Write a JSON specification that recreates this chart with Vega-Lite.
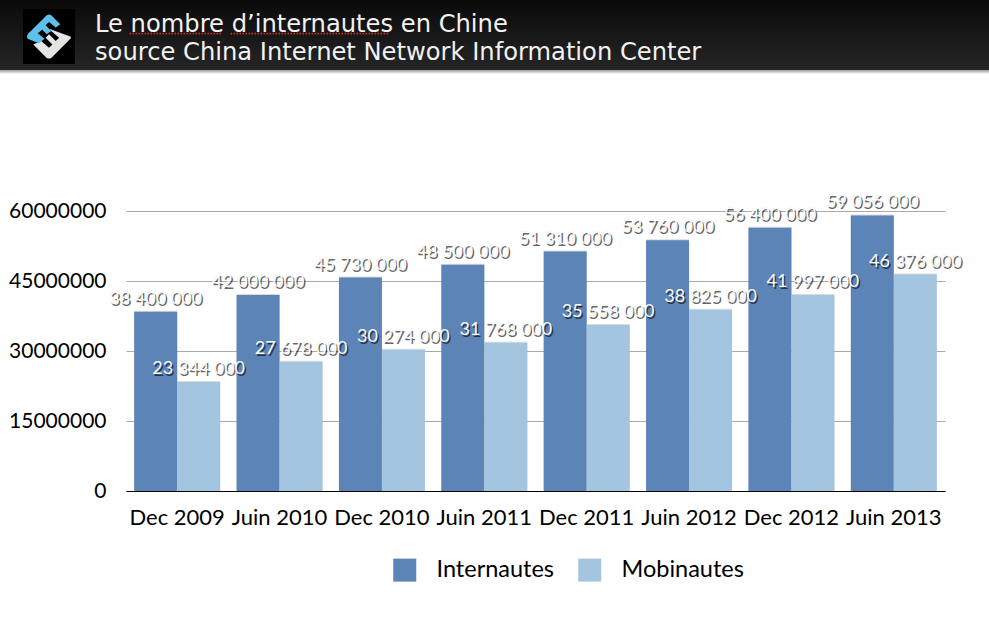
{
  "$schema": "https://vega.github.io/schema/vega-lite/v6.json",
  "padding": 0,
  "background": "white",
  "spacing": 0,
  "config": {"font": "Lato", "concat": {"spacing": 0}},
  "datasets": {
    "series": [
      {"period": "Dec 2009", "serie": "Internautes", "value": 38400000, "label": "38 400 000"},
      {"period": "Dec 2009", "serie": "Mobinautes", "value": 23344000, "label": "23 344 000"},
      {"period": "Juin 2010", "serie": "Internautes", "value": 42000000, "label": "42 000 000"},
      {"period": "Juin 2010", "serie": "Mobinautes", "value": 27678000, "label": "27 678 000"},
      {"period": "Dec 2010", "serie": "Internautes", "value": 45730000, "label": "45 730 000"},
      {"period": "Dec 2010", "serie": "Mobinautes", "value": 30274000, "label": "30 274 000"},
      {"period": "Juin 2011", "serie": "Internautes", "value": 48500000, "label": "48 500 000"},
      {"period": "Juin 2011", "serie": "Mobinautes", "value": 31768000, "label": "31 768 000"},
      {"period": "Dec 2011", "serie": "Internautes", "value": 51310000, "label": "51 310 000"},
      {"period": "Dec 2011", "serie": "Mobinautes", "value": 35558000, "label": "35 558 000"},
      {"period": "Juin 2012", "serie": "Internautes", "value": 53760000, "label": "53 760 000"},
      {"period": "Juin 2012", "serie": "Mobinautes", "value": 38825000, "label": "38 825 000"},
      {"period": "Dec 2012", "serie": "Internautes", "value": 56400000, "label": "56 400 000"},
      {"period": "Dec 2012", "serie": "Mobinautes", "value": 41997000, "label": "41 997 000"},
      {"period": "Juin 2013", "serie": "Internautes", "value": 59056000, "label": "59 056 000"},
      {"period": "Juin 2013", "serie": "Mobinautes", "value": 46376000, "label": "46 376 000"}
    ]
  },
  "vconcat": [
    {
      "width": 863,
      "height": 74,
      "view": {"stroke": null},
      "title": {
        "text": ["Le nombre d’internautes en Chine", "source China Internet Network Information Center"],
        "anchor": "start",
        "frame": "group",
        "orient": "top",
        "offset": -65,
        "dx": -31,
        "font": "DejaVu Sans",
        "fontSize": 24.2,
        "fontWeight": "normal",
        "color": "#f2f2f2",
        "lineHeight": 28,
        "baseline": "top"
      },
      "data": {"values": [{"banner": "banner", "logo": "logo"}]},
      "resolve": {"scale": {"x": "independent", "y": "independent"}},
      "layer": [
        {
          "mark": {
            "type": "rect",
            "fill": {
              "x1": 0, "y1": 0, "x2": 0, "y2": 1,
              "gradient": "linear",
              "stops": [
                {"offset": 0, "color": "#0a0a0a"},
                {"offset": 0.94, "color": "#252525"},
                {"offset": 0.945, "color": "#9a9a9a"},
                {"offset": 1, "color": "#ffffff"}
              ]
            }
          },
          "encoding": {
            "x": {"field": "banner", "type": "nominal", "axis": null, "scale": {"range": [-126, 863]}},
            "y": {"field": "banner", "type": "nominal", "axis": null, "scale": {"range": [0, 74]}}
          }
        },
        {
          "encoding": {
            "x": {"field": "logo", "type": "nominal", "axis": null, "scale": {"range": [-103, -51]}},
            "y": {"field": "logo", "type": "nominal", "axis": null, "scale": {"range": [9, 64]}}
          },
          "layer": [
            {"mark": {"type": "rect", "fill": "#000000"}},
            {"mark": {"type": "point", "filled": true, "size": 2025, "opacity": 1, "fill": "#e4e4e4", "shape": "M0 -0.35 L0.95 0 Q1 0.05 0.95 0.1 L0.1 0.95 Q0 1 -0.1 0.95 L-0.7 0.35 L-0.35 0.2 L0 0.5 L0.15 0.35 L-0.15 0.05 L0 -0.1 L0.3 0.2 L0.45 0.05 L0.1 -0.25 Z"}},
            {"mark": {"type": "point", "filled": true, "size": 2025, "opacity": 1, "fill": "#5cc0ea", "shape": "M-0.1 -0.95 Q0 -1 0.1 -0.95 L0.5 -0.55 L0.3 -0.4 L0 -0.65 L-0.15 -0.5 L0.1 -0.25 L-0.1 -0.1 L-0.3 -0.3 L-0.5 -0.15 L-0.2 0.1 L-0.45 0.3 L-0.95 0.1 Q-1 0 -0.95 -0.1 Z"}},
            {"mark": {"type": "point", "filled": true, "size": 2025, "opacity": 1, "fill": "transparent", "stroke": "#d03020", "strokeWidth": 1.6, "strokeDash": [1.5, 1.5], "shape": "M3.58 -0.13 L7.7 -0.13 M8.07 -0.13 L15.13 -0.13"}}
          ]
        }
      ]
    },
    {
      "width": 819,
      "height": 417,
      "view": {"stroke": null},
      "data": {"name": "series"},
      "encoding": {
        "x": {
          "field": "period",
          "type": "nominal",
          "sort": null,
          "title": null,
          "scale": {"paddingInner": 0.16, "paddingOuter": 0.08},
          "axis": {
            "labelAngle": 0,
            "labelFontSize": 22,
            "labelColor": "#000000",
            "labelPadding": 16,
            "ticks": false,
            "domainColor": "#000000",
            "domainWidth": 1.2,
            "grid": false,
            "zindex": 1
          }
        },
        "xOffset": {"field": "serie", "type": "nominal", "sort": null, "scale": {"paddingInner": 0, "paddingOuter": 0}},
        "y": {
          "field": "value",
          "type": "quantitative",
          "title": null,
          "scale": {"domain": [0, 89360000], "nice": false},
          "axis": {
            "values": [0, 15000000, 30000000, 45000000, 60000000],
            "format": "d",
            "labelFontSize": 21,
            "labelColor": "#000000",
            "labelPadding": 20,
            "minExtent": 126,
            "maxExtent": 126,
            "ticks": false,
            "domain": false,
            "grid": true,
            "gridColor": "#aaaaaa",
            "gridWidth": 1
          }
        }
      },
      "layer": [
        {"mark": {"type": "bar", "fill": "#000000", "opacity": 0.14, "xOffset": 2.5, "yOffset": -1}},
        {
          "mark": {"type": "bar"},
          "encoding": {
            "color": {
              "field": "serie",
              "type": "nominal",
              "sort": null,
              "scale": {"domain": ["Internautes", "Mobinautes"], "range": ["#5d84b7", "#a4c5e0"]},
              "legend": {
                "title": null,
                "orient": "none",
                "direction": "horizontal",
                "legendX": 267,
                "legendY": 558,
                "symbolType": "square",
                "symbolSize": 529,
                "symbolOpacity": 1,
                "symbolStrokeWidth": 0,
                "labelFontSize": 23.5,
                "labelColor": "#000000",
                "labelOffset": 20,
                "columnPadding": 23,
                "rowPadding": 0
              }
            }
          }
        },
        {
          "mark": {"type": "text", "baseline": "bottom", "dy": -2, "dx": 1.5, "fontSize": 18, "fill": "#000000", "opacity": 0.6, "align": "center"},
          "encoding": {"text": {"field": "label"}}
        },
        {
          "mark": {"type": "text", "baseline": "bottom", "dy": -4, "fontSize": 18, "fill": "#f8f8f8", "align": "center"},
          "encoding": {"text": {"field": "label"}}
        }
      ]
    }
  ]
}
